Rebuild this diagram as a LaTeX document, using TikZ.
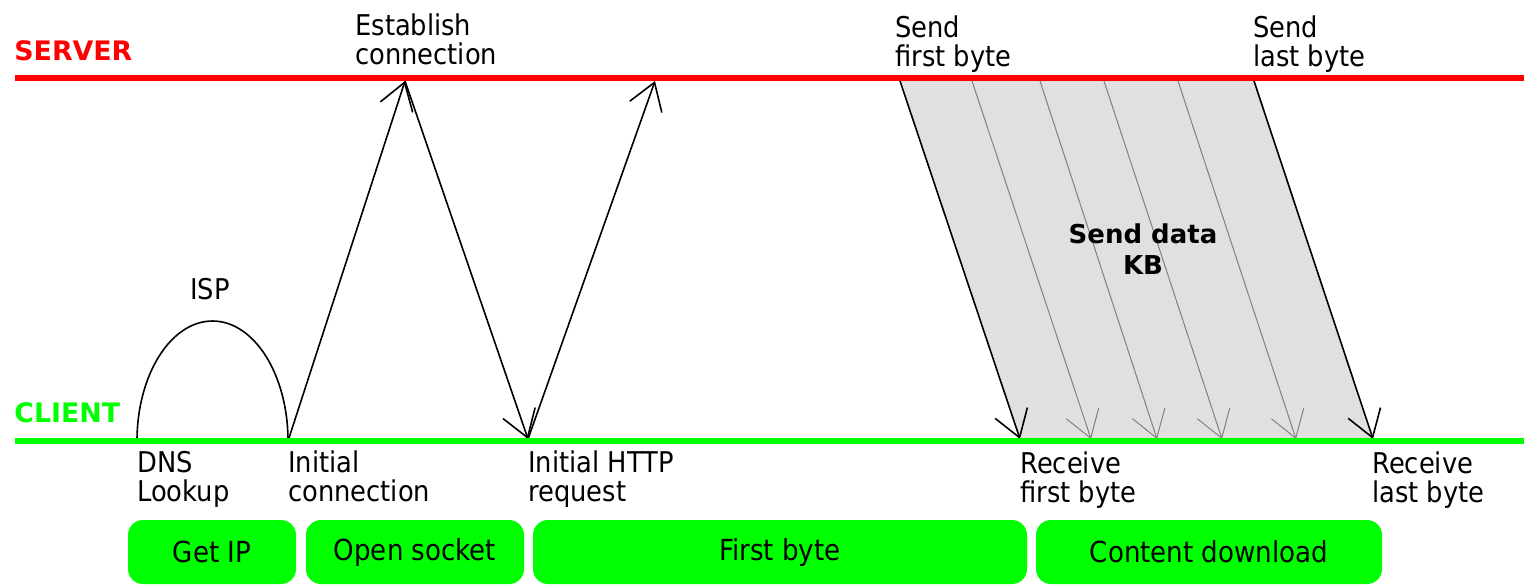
\documentclass[tikz,border=0pt]{standalone}
\usepackage{fontspec}
\setmainfont{DejaVu Sans Condensed}
\newfontfamily\widefont{DejaVu Sans}
\usetikzlibrary{arrows.meta}
\definecolor{srv}{HTML}{FF0000}
\definecolor{cli}{HTML}{00FF00}
\definecolor{datafill}{HTML}{E0E0E0}
\definecolor{pktgray}{HTML}{808080}
\tikzset{
  lbl/.style={font=\fontsize{14.3}{14.6}\selectfont, align=left, inner sep=0pt, anchor=north west},
  side/.style={font=\widefont\bfseries\fontsize{13.4}{14}\selectfont, inner sep=0pt, anchor=west},
  msg/.style={draw=black, line width=0.8pt, -{Straight Barb[length=13pt,width=17pt]}},
  pkt/.style={msg, draw=pktgray, line width=0.5pt},
  phase/.style={fill=cli, rounded corners=7.5pt, minimum height=32pt, inner sep=0pt,
                font=\fontsize{14.5}{15}\selectfont},
  timeline/.style={line width=3pt}
}
\begin{document}
\begin{tikzpicture}[x=0.5pt,y=-0.5pt]
\useasboundingbox (0,0) rectangle (1524,586);

% timeline end points
\coordinate (sL) at (15,78);  \coordinate (sR) at (1524,78);
\coordinate (cL) at (15,441); \coordinate (cR) at (1524,441);

% events
\coordinate (dns) at (137,441);
\coordinate (c1) at (288,441);
\coordinate (s1) at (405,81);
\coordinate (c2) at (528,439);
\coordinate (s2) at (655,81);

% data transfer
\coordinate (t0) at (900,81);  \coordinate (b0) at (1020,439);
\coordinate (t1) at (972,81);  \coordinate (b1) at (1091,439);
\coordinate (t2) at (1040,81); \coordinate (b2) at (1157,439);
\coordinate (t3) at (1104,81); \coordinate (b3) at (1222,439);
\coordinate (t4) at (1178,81); \coordinate (b4) at (1296,439);
\coordinate (t5) at (1254,81); \coordinate (b5) at (1373,439);

\fill[datafill] (t0) -- (t5) -- (b5) -- (b0) -- cycle;
\foreach \i in {1,2,3,4} \draw[pkt] (t\i) -- (b\i);
\draw[msg] (t0) -- (b0);
\draw[msg] (t5) -- (b5);

\node[font=\widefont\bfseries\fontsize{13}{15.5}\selectfont, align=center, inner sep=0pt]
  (senddata) at (1143,249) {Send data\\KB};

% DNS lookup
\draw[line width=0.8pt] (dns) arc[start angle=180, end angle=360, x radius=75.5, y radius=120];
\node[font=\fontsize{14.3}{14.6}\selectfont, inner sep=0pt] (isp) at (210,289) {ISP};

% handshake + request
\draw[msg] (c1) -- (s1);
\draw[msg] (s1) -- (c2);
\draw[msg] (c2) -- (s2);

% timelines
\draw[timeline, srv] (sL) -- (sR);
\draw[timeline, cli] (cL) -- (cR);
\node[side, text=srv] (server) at (14,51) {SERVER};
\node[side, text=cli] (client) at (14,413) {CLIENT};

% labels
\node[lbl] (lest) at (355,13) {Establish\\connection};
\node[lbl] (lsf) at (895,15) {Send\\first byte};
\node[lbl] (lsl) at (1253,15) {Send\\last byte};
\node[lbl] (ldns) at (137,451) {DNS\\Lookup};
\node[lbl] (lic) at (288,450) {Initial\\connection};
\node[lbl] (lhttp) at (528,450) {Initial HTTP\\request};
\node[lbl] (lrf) at (1020,451) {Receive\\first byte};
\node[lbl] (lrl) at (1372,451) {Receive\\last byte};

% phases
\node[phase, minimum width=84pt] (getip) at (212,552) {Get IP};
\node[phase, minimum width=109pt] (sock) at (415,552) {Open socket};
\node[phase, minimum width=247pt] (fbyte) at (780,552) {First byte};
\node[phase, minimum width=173pt] (content) at (1209,552) {Content download};
\end{tikzpicture}
\end{document}
